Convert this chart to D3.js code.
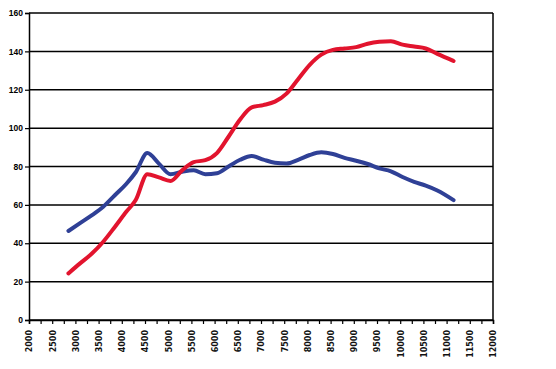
<!DOCTYPE html>
<html><head><meta charset="utf-8">
<script src="https://cdn.jsdelivr.net/npm/d3@7"></script>
<style>body{margin:0;background:#fff}svg{display:block}</style>
</head><body>
<svg id="c" width="556" height="369"></svg>
<script>
const rpm = [2850,3100,3350,3600,3850,4100,4300,4550,4800,5050,5300,5550,5800,6050,6300,6550,6800,7050,7300,7550,7800,8050,8300,8550,8800,9050,9300,9550,9800,10050,10300,10550,10800,11150];
const blueVals = [46.4,50.5,54.5,59,65,71,77,87,81.5,76,77.3,78,76,76.5,80,83.5,85.5,83.6,82,81.6,83.5,86,87.4,86.5,84.5,83,81.3,79,77.5,74.5,72,70,67.5,62.5];
const redVals = [24.3,29.5,34.5,40.8,48.5,56.5,62.5,76,74.3,72.5,78,82.3,83.3,87,95.5,104.5,110.8,112,113.8,118,125.5,133,138.3,140.8,141.5,142.2,144,145,145.3,143.5,142.5,141.5,138.7,135];
const yTicks = [0,20,40,60,80,100,120,140,160];
const xTicks = d3.range(2000, 12001, 500);
const xMinor = d3.range(2000, 12001, 250);

const svg = d3.select("#c");
const L = 29, R = 493, T = 13, B = 320;
const x = d3.scaleLinear().domain([2000,12000]).range([L,R]);
const y = d3.scaleLinear().domain([0,160]).range([B,T]);

// gridlines
svg.append("g").selectAll("line").data(yTicks).join("line")
  .attr("x1", L).attr("x2", R).attr("y1", d=>y(d)).attr("y2", d=>y(d))
  .attr("stroke","#000").attr("stroke-width",1.5);
// right border
svg.append("line").attr("x1",R).attr("x2",R).attr("y1",T).attr("y2",B).attr("stroke","#000").attr("stroke-width",1.5);

// y axis
const yAxis = d3.axisLeft(y).tickValues(yTicks).tickSize(4).tickPadding(2);
const gy = svg.append("g").attr("transform",`translate(${L},0)`).call(yAxis);
gy.select(".domain").attr("stroke","#000").attr("stroke-width",1.5);
gy.selectAll(".tick line").attr("stroke","#000").attr("stroke-width",1.2);
gy.selectAll("text").attr("font-family","Liberation Sans, Arial, sans-serif").attr("font-size","8.5px").attr("font-weight","bold").attr("fill","#000");

// x axis minor ticks
const xMin = d3.axisBottom(x).tickValues(xMinor).tickSize(4).tickFormat("");
const gxm = svg.append("g").attr("transform",`translate(0,${B})`).call(xMin);
gxm.select(".domain").attr("stroke","#000").attr("stroke-width",1.5);
gxm.selectAll(".tick line").attr("stroke","#000").attr("stroke-width",1.2);

const xAxis = d3.axisBottom(x).tickValues(xTicks).tickSize(0).tickFormat(d3.format("d"));
const gx = svg.append("g").attr("transform",`translate(0,${B})`).call(xAxis);
gx.select(".domain").remove();
gx.selectAll("text")
  .attr("font-family","DejaVu Sans, Verdana, sans-serif").attr("font-size","8px").attr("font-weight","bold").attr("fill","#111")
  .attr("text-anchor","end").attr("transform","rotate(-90)").attr("x",-10).attr("y",0).attr("dy","0.35em");

const line = d3.line().x((d,i)=>x(rpm[i])).y(d=>y(d)).curve(d3.curveMonotoneX);
svg.append("path").datum(blueVals).attr("d",line).attr("fill","none")
  .attr("stroke","#2f4096").attr("stroke-width",4).attr("stroke-linejoin","round").attr("stroke-linecap","round");
svg.append("path").datum(redVals).attr("d",line).attr("fill","none")
  .attr("stroke","#e2142e").attr("stroke-width",4).attr("stroke-linejoin","round").attr("stroke-linecap","round");
</script>
</body></html>
